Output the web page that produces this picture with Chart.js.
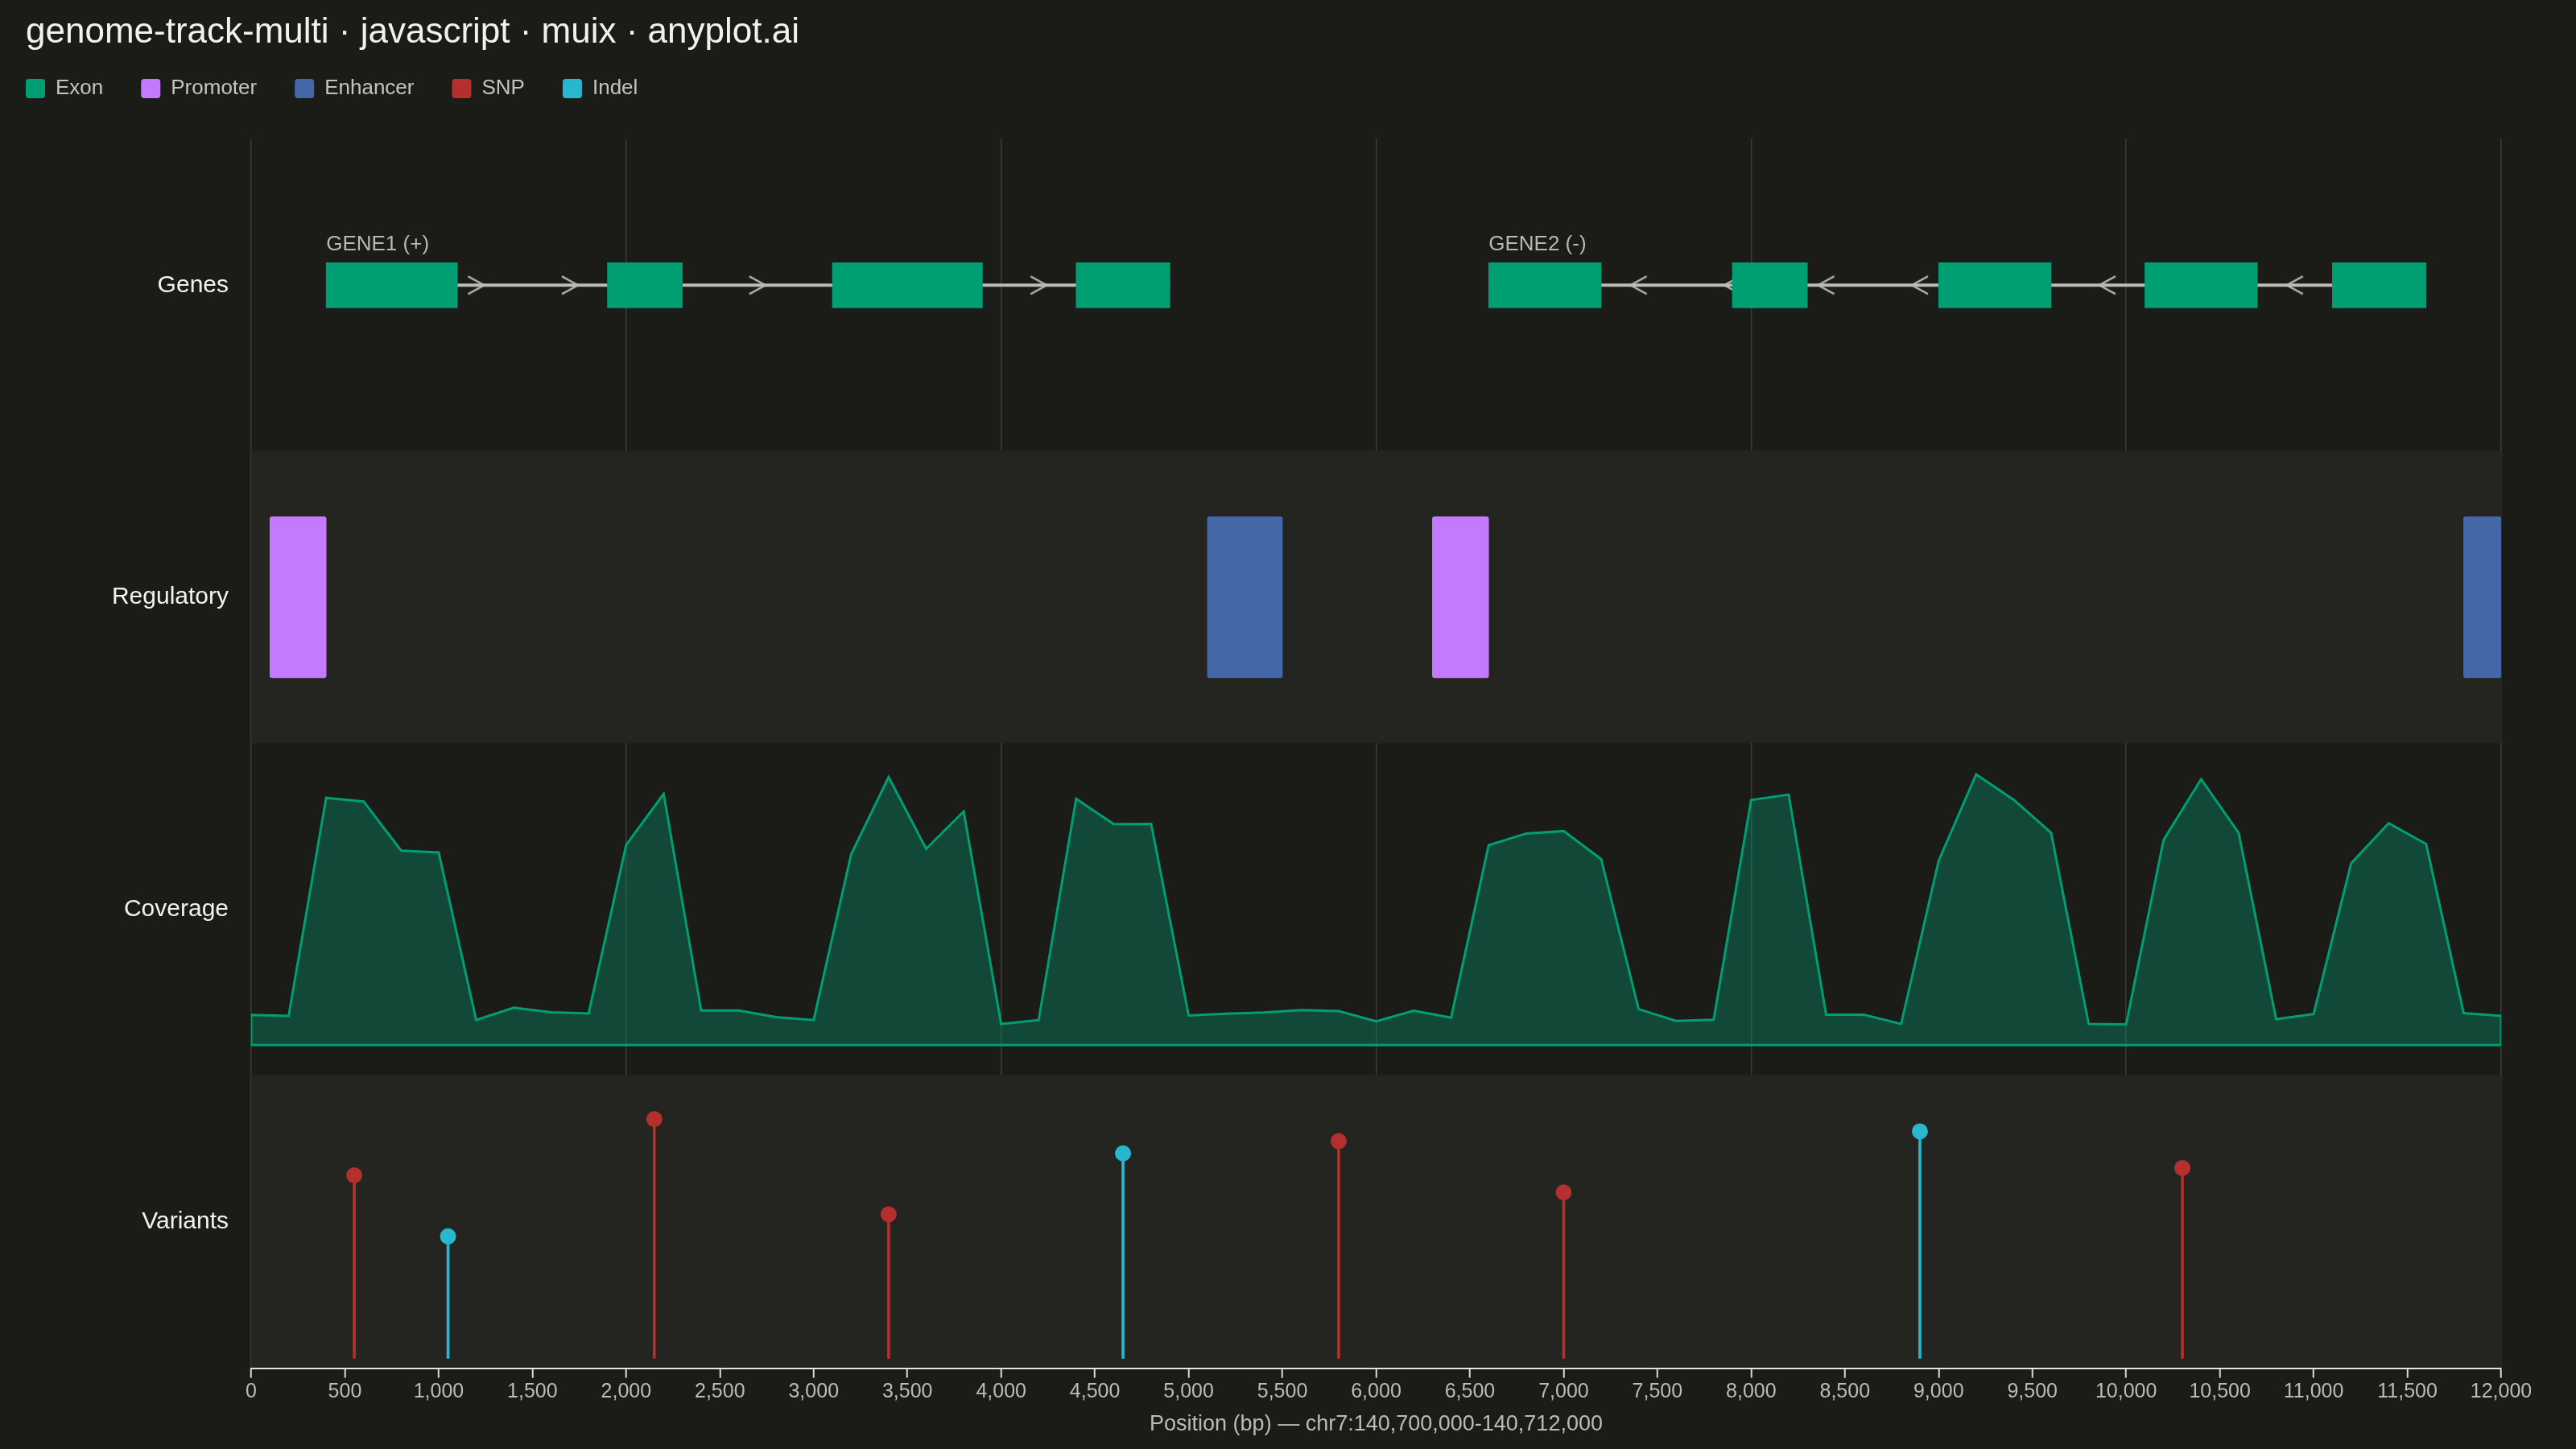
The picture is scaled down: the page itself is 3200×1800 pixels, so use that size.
<!DOCTYPE html>
<html>
<head>
<meta charset="utf-8">
<title>genome-track-multi</title>
<script src="https://cdn.jsdelivr.net/npm/chart.js@4.4.1/dist/chart.umd.min.js"></script>
<style>
  html, body { margin: 0; padding: 0; background: #1b1b17; }
  #wrap { width: 3200px; height: 1800px; }
</style>
</head>
<body>
<div id="wrap"><canvas id="genomeChart"></canvas></div>
<script>
// positions are bp offsets inside chr7:140,700,000-140,712,000
const geneNames = ['GENE1', 'GENE2'];
const geneStrands = ['+', '-'];
const geneStarts = [400, 6600];
const geneEnds = [4900, 11600];
const exonSpans = [
  [400, 1100], [1900, 2300], [3100, 3900], [4400, 4900],
  [6600, 7200], [7900, 8300], [9000, 9600], [10100, 10700], [11100, 11600]
];
const plusArrows = [1200, 1700, 2700, 4200];
const minusArrows = [7400, 7900, 8400, 8900, 9900, 10900];

const regTypes = ['Promoter', 'Enhancer', 'Promoter', 'Enhancer'];
const regSpans = [[100, 400], [5100, 5500], [6300, 6600], [11800, 12000]];

const covPositions = [
  0, 200, 400, 600, 800, 1000, 1200, 1400, 1600, 1800,
  2000, 2200, 2400, 2600, 2800, 3000, 3200, 3400, 3600, 3800,
  4000, 4200, 4400, 4600, 4800, 5000, 5200, 5400, 5600, 5800,
  6000, 6200, 6400, 6600, 6800, 7000, 7200, 7400, 7600, 7800,
  8000, 8200, 8400, 8600, 8800, 9000, 9200, 9400, 9600, 9800,
  10000, 10200, 10400, 10600, 10800, 11000, 11200, 11400, 11600, 11800,
  12000
];
const covDepth = [
  10, 9.7, 82, 80.8, 64.5, 63.9, 8.3, 12.4, 10.9, 10.5,
  66.4, 83.3, 11.5, 11.5, 9.3, 8.3, 63.3, 88.9, 65.1, 77.5,
  7, 8.3, 81.7, 73.3, 73.4, 9.8, 10.4, 10.8, 11.6, 11.3,
  7.9, 11.4, 9.1, 66.3, 70.2, 71, 61.7, 11.9, 8, 8.4,
  81.3, 83.1, 10.1, 10.1, 7, 61.1, 89.8, 81.4, 70.4, 7,
  6.9, 68.1, 88.2, 70.4, 8.6, 10.3, 60.3, 73.6, 66.7, 10.6,
  9.7
];

const varPositions = [550, 1050, 2150, 3400, 4650, 5800, 7000, 8900, 10300];
const varTypes = ['SNP', 'Indel', 'SNP', 'SNP', 'Indel', 'SNP', 'SNP', 'Indel', 'SNP'];
const varScores = [75, 50, 98, 59, 84, 89, 68, 93, 78];

const legendNames = ['Exon', 'Promoter', 'Enhancer', 'SNP', 'Indel'];
const trackNames = ['Genes', 'Regulatory', 'Coverage', 'Variants'];

const colors = {
  Exon: '#009e73',
  Promoter: '#c47aff',
  Enhancer: '#4467a7',
  SNP: '#b3302f',
  Indel: '#27b8cf'
};
const geneRow = 0.53;

Chart.defaults.font.family = '"Liberation Sans", Arial, sans-serif';
Chart.defaults.color = '#bdbcb4';

// small ">" used as the strand marker on introns
function chevron() {
  const c = document.createElement('canvas');
  c.width = 24;
  c.height = 26;
  const g = c.getContext('2d');
  g.strokeStyle = '#bdbcb4';
  g.lineWidth = 2.5;
  g.beginPath();
  g.moveTo(2, 2);
  g.lineTo(22, 13);
  g.lineTo(2, 24);
  g.stroke();
  return c;
}
const arrowImg = chevron();

function trackAxis(label, labelValue, min, max, weight, stackWeight) {
  return {
    type: 'linear',
    axis: 'y',
    position: 'left',
    stack: 'tracks',
    stackWeight: stackWeight,
    weight: weight,
    min: min,
    max: max,
    offset: false,
    grid: { display: false, drawTicks: false, offset: false },
    border: { display: false },
    ticks: { color: '#f3f2eb', font: { size: 30 }, padding: 28, callback: () => label },
    afterBuildTicks: s => { s.ticks = [{ value: labelValue }]; },
    afterFit: s => { s.width = 290; }
  };
}

// light background on alternating tracks + gene names
const trackPlugin = {
  id: 'tracks',
  beforeDatasetsDraw(chart) {
    const { ctx, chartArea, scales } = chart;
    ctx.save();
    ctx.fillStyle = '#242421';
    ['yReg', 'yVar'].forEach(id => {
      const s = scales[id];
      ctx.fillRect(chartArea.left, s.top, chartArea.right - chartArea.left, s.bottom - s.top - 1);
    });
    ctx.restore();
  },
  afterDatasetsDraw(chart) {
    const { ctx, scales } = chart;
    const y = scales.yGenes.getPixelForValue(geneRow) - 43;
    ctx.save();
    ctx.font = '26px "Liberation Sans", Arial, sans-serif';
    ctx.fillStyle = '#b9b8b0';
    ctx.textBaseline = 'alphabetic';
    geneNames.forEach((name, i) => {
      ctx.fillText(name + ' (' + geneStrands[i] + ')', scales.x.getPixelForValue(geneStarts[i]), y);
    });
    ctx.restore();
  }
};

// room under the legend, and title/legend flush with the left margin
const headerPlugin = {
  id: 'header',
  beforeInit(chart) {
    const legend = chart.legend;
    const fit = legend.fit;
    legend.fit = function () {
      fit.call(this);
      this.height += 22.2;
    };
  },
  afterLayout(chart) {
    chart.titleBlock.left = 32;
    chart.legend.left = -15;
    chart.legend.top = 50;
  }
};

const ctx = document.getElementById('genomeChart').getContext('2d');
const genomeChart = new Chart(ctx, {
  type: 'line',
  data: {
    datasets: [
      {
        type: 'bar',
        label: 'Exon',
        indexAxis: 'y',
        xAxisID: 'x',
        yAxisID: 'yGenes',
        data: exonSpans.map(s => ({ x: s, y: geneRow })),
        backgroundColor: colors.Exon,
        borderWidth: 0,
        barThickness: 56,
        grouped: false,
        order: 0
      },
      {
        type: 'scatter',
        label: 'plus strand',
        xAxisID: 'x',
        yAxisID: 'yGenes',
        data: plusArrows.map(x => ({ x: x, y: geneRow })),
        pointStyle: arrowImg,
        pointRadius: 12,
        pointRotation: 0,
        order: 1
      },
      {
        type: 'scatter',
        label: 'minus strand',
        xAxisID: 'x',
        yAxisID: 'yGenes',
        data: minusArrows.map(x => ({ x: x, y: geneRow })),
        pointStyle: arrowImg,
        pointRadius: 12,
        pointRotation: 180,
        order: 1
      },
      ...geneStarts.map((start, i) => ({
        type: 'line',
        label: geneNames[i],
        xAxisID: 'x',
        yAxisID: 'yGenes',
        data: [{ x: start, y: geneRow }, { x: geneEnds[i], y: geneRow }],
        borderColor: '#bdbcb4',
        borderWidth: 4,
        pointRadius: 0,
        order: 2
      })),
      {
        type: 'bar',
        label: 'Regulatory',
        indexAxis: 'y',
        xAxisID: 'x',
        yAxisID: 'yReg',
        data: regSpans.map(s => ({ x: s, y: 0.5 })),
        backgroundColor: regTypes.map(t => colors[t]),
        borderWidth: 0,
        borderRadius: 3,
        borderSkipped: false,
        barThickness: 200,
        grouped: false,
        order: 0
      },
      {
        type: 'line',
        label: 'Coverage',
        xAxisID: 'x',
        yAxisID: 'yCov',
        data: [
          { x: covPositions[0], y: 0 },
          ...covPositions.map((x, i) => ({ x: x, y: covDepth[i] })),
          { x: covPositions[covPositions.length - 1], y: 0 }
        ],
        borderColor: colors.Exon,
        borderWidth: 3,
        backgroundColor: 'rgba(0, 158, 115, 0.35)',
        fill: 'origin',
        pointRadius: 0,
        tension: 0,
        order: 2
      },
      {
        type: 'line',
        label: 'Coverage baseline',
        xAxisID: 'x',
        yAxisID: 'yCov',
        data: [{ x: covPositions[0], y: 0 }, { x: covPositions[covPositions.length - 1], y: 0 }],
        borderColor: colors.Exon,
        borderWidth: 3,
        pointRadius: 0,
        order: 1
      },
      {
        type: 'bar',
        label: 'Variant stems',
        xAxisID: 'x',
        yAxisID: 'yVar',
        data: varPositions.map((x, i) => ({ x: x, y: varScores[i] })),
        backgroundColor: varTypes.map(t => colors[t]),
        borderWidth: 0,
        barThickness: 3,
        grouped: false,
        order: 1
      },
      {
        type: 'scatter',
        label: 'Variants',
        xAxisID: 'x',
        yAxisID: 'yVar',
        data: varPositions.map((x, i) => ({ x: x, y: varScores[i] })),
        pointRadius: 10,
        pointBackgroundColor: varTypes.map(t => colors[t]),
        pointBorderWidth: 0,
        order: 0
      }
    ]
  },
  options: {
    responsive: true,
    maintainAspectRatio: false,
    devicePixelRatio: 1,
    animation: false,
    events: [],
    layout: { padding: { left: 22, right: 93, top: 0, bottom: 10 } },
    plugins: {
      title: {
        display: true,
        text: 'genome-track-multi · javascript · muix · anyplot.ai',
        align: 'start',
        color: '#f2f1ea',
        font: { size: 44, weight: 'normal' },
        padding: { top: 14, bottom: 0 }
      },
      legend: {
        display: true,
        position: 'top',
        align: 'start',
        labels: {
          boxWidth: 24,
          boxHeight: 24,
          padding: 47,
          color: '#c5c4bc',
          font: { size: 26 },
          generateLabels: () => legendNames.map((name, i) => ({
            text: name,
            fillStyle: colors[name],
            strokeStyle: colors[name],
            lineWidth: 0,
            borderRadius: 4,
            fontColor: '#c5c4bc',
            hidden: false,
            datasetIndex: i
          }))
        }
      },
      tooltip: { enabled: false }
    },
    scales: {
      x: {
        type: 'linear',
        position: 'bottom',
        min: 0,
        max: 12000,
        offset: false,
        ticks: {
          stepSize: 500,
          autoSkip: false,
          maxRotation: 0,
          minRotation: 0,
          color: '#bdbcb4',
          font: { size: 25 },
          padding: 3,
          callback: v => v.toLocaleString('en-US')
        },
        grid: {
          offset: false,
          color: c => (c.tick && c.tick.value % 2000 === 0 ? '#3c3c37' : 'rgba(0,0,0,0)'),
          lineWidth: 1.5,
          drawTicks: true,
          tickLength: 12,
          tickColor: '#dcdbd3',
          tickWidth: 2
        },
        border: { display: true, color: '#e6e5dd', width: 2 },
        title: {
          display: true,
          text: 'Position (bp) — chr7:140,700,000-140,712,000',
          color: '#bdbcb4',
          font: { size: 27 },
          padding: { top: 6, bottom: 4 }
        }
      },
      yGenes: trackAxis(trackNames[0], geneRow, 0, 1, 4, 388),
      yReg: trackAxis(trackNames[1], 0.5, 0, 1, 3, 364),
      yCov: trackAxis(trackNames[2], 45, -10, 100, 2, 412),
      yVar: trackAxis(trackNames[3], 56, -4, 116, 1, 364)
    }
  },
  plugins: [trackPlugin, headerPlugin]
});
</script>
</body>
</html>
